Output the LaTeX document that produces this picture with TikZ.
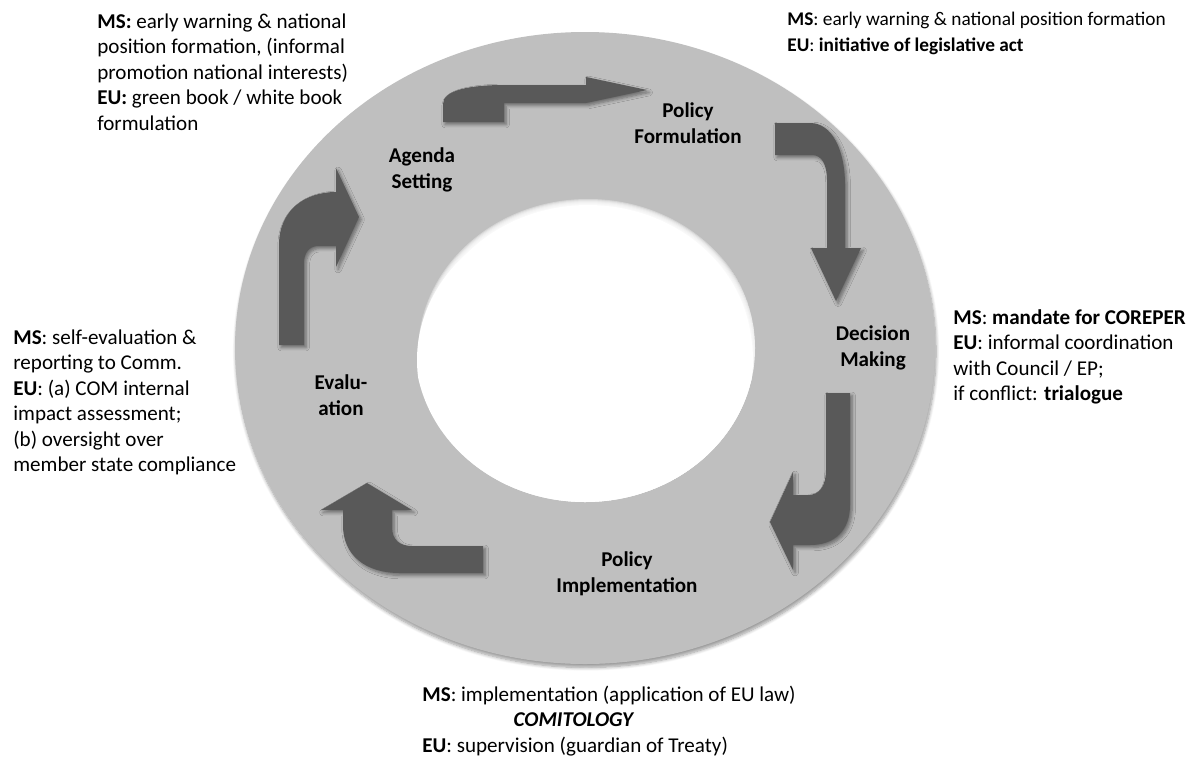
\documentclass[tikz,border=0pt]{standalone}
\usepackage{fontspec}
\setmainfont{Carlito}
\usepackage{tikz}
\usetikzlibrary{shadows.blur}
\definecolor{ringgray}{RGB}{191,191,191}
\definecolor{arrowgray}{RGB}{89,89,89}
\tikzstyle{stage} = [font=\fontsize{12pt}{15pt}\selectfont\bfseries, align=center, inner sep=0pt]
\tikzstyle{note} = [font=\fontsize{12pt}{14.5pt}\selectfont, align=left, inner sep=0pt, anchor=base west]
\tikzstyle{bentarrow} = [fill=arrowgray, blur shadow={shadow xshift=1.2pt, shadow yshift=-1.4pt, shadow blur steps=6, shadow opacity=45}]

\begin{document}
\begin{tikzpicture}[x=0.02cm, y=-0.02cm]
\useasboundingbox (0,0) rectangle (1196,758);

% ring
\fill[ringgray, blur shadow={shadow xshift=0.6pt, shadow yshift=-2pt, shadow blur steps=8, shadow opacity=40}] (585,348) ellipse [x radius=350, y radius=316];
\begin{scope}
\clip (585,348) ellipse [x radius=170, y radius=154];
\foreach \k in {0,...,5}
  \fill[white, opacity=0.35] (588,353) ellipse [x radius=170-\k, y radius=154-\k];
\fill[white] (588,353) ellipse [x radius=164, y radius=148];
\fill[white] (585,360) ellipse [x radius=168, y radius=150];
\end{scope}

% bent arrows
\fill[bentarrow] (443,122) -- (443,104) .. controls (443,90) and (470,85) .. (505,85) -- (586,85) -- (586,77) -- (647,90) -- (586,103) -- (504,103) -- (504,122) -- cycle;
\fill[bentarrow] (775,123) -- (810,123) .. controls (832,123) and (845,150) .. (845,185) -- (845,248) -- (861,248) -- (836,301) -- (811,248) -- (827,248) -- (827,180) .. controls (827,165) and (822,155) .. (812,155) -- (775,155) -- cycle;
\fill[bentarrow] (826,393) -- (850,393) -- (850,505) .. controls (850,530) and (835,545) .. (810,545) -- (793,545) -- (793,570) -- (770,522) -- (793,472) -- (793,495) -- (808,495) .. controls (820,495) and (826,485) .. (826,470) -- cycle;
\fill[bentarrow] (483,546) -- (483,573) -- (400,573) .. controls (365,573) and (343,555) .. (343,525) -- (343,510) -- (321,510) -- (367,483) -- (412,510) -- (392,510) -- (392,527) .. controls (392,540) and (400,546) .. (412,546) -- cycle;
\fill[bentarrow] (279,345) -- (279,245) .. controls (279,210) and (305,192) .. (336,192) -- (336,168) -- (359,217) -- (336,267) -- (336,246) -- (318,246) .. controls (309,246) and (304,253) .. (304,263) -- (304,345) -- cycle;

% stages
\node[stage] (agenda) at (422,170) {Agenda\\Setting};
\node[stage] (formul) at (688,123) {Policy\\Formulation};
\node[stage] (decision) at (873,348) {Decision\\Making};
\node[stage] (implem) at (627,574) {Policy\\Implementation};
\node[stage] (evalu) at (341,395) {Evalu-\\ation};

% notes (base = last line)
\node[note] (agendanote) at (97,130) {\textbf{MS:} early warning \& national\\position formation, (informal\\promotion national interests)\\\textbf{EU:} green book / white book\\formulation};
\node[note, font=\fontsize{11pt}{14.5pt}\selectfont] (formulnote) at (787,51) {\textbf{MS}: early warning \& national position formation\\\textbf{EU}: \textbf{initiative of legislative act}};
\node[note] (decisionnote) at (953,400.5) {\textbf{MS}: \textbf{mandate for COREPER}\\\textbf{EU}: informal coordination\\with Council / EP;\\if conflict: \textbf{trialogue}};
\node[note] (evalunote) at (13,471.5) {\textbf{MS}: self-evaluation \&\\reporting to Comm.\\\textbf{EU}: (a) COM internal\\impact assessment;\\(b) oversight over\\member state compliance};
\node[note] (implemnote) at (422,752) {\textbf{MS}: implementation (application of EU law)\\\hspace*{52pt}\textbf{\textit{COMITOLOGY}}\\\textbf{EU}: supervision (guardian of Treaty)};

\end{tikzpicture}
\end{document}
